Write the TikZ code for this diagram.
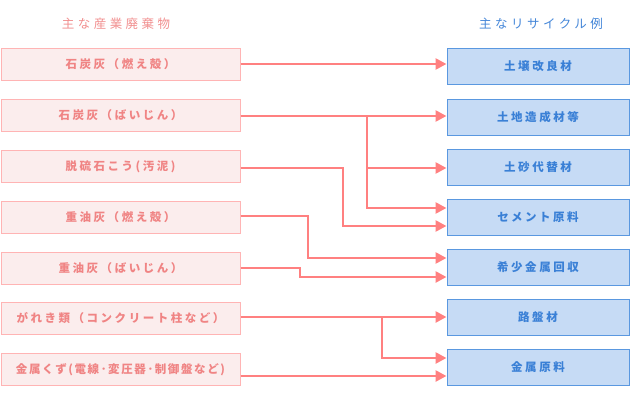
\documentclass[tikz,border=0pt]{standalone}
\usepackage{fontspec}
\setmainfont{Noto Sans CJK JP}[LetterSpace=22]
\usetikzlibrary{arrows.meta}
\definecolor{lfill}{HTML}{FBEDED}
\definecolor{ldraw}{HTML}{FFB4B4}
\definecolor{ltext}{HTML}{F08484}
\definecolor{rfill}{HTML}{C6DBF5}
\definecolor{rdraw}{HTML}{5A98E0}
\definecolor{rtext}{HTML}{3A80D6}
\definecolor{conncol}{HTML}{FF8080}
\begin{document}
\begin{tikzpicture}[x=1pt,y=-1pt,
  lbox/.style={draw=ldraw,fill=lfill,line width=1pt,minimum width=239pt,minimum height=32pt,inner sep=0pt,text=ltext,font=\fontsize{11.5}{13}\selectfont\bfseries},
  rbox/.style={draw=rdraw,fill=rfill,line width=1pt,minimum width=182pt,minimum height=36pt,inner sep=0pt,text=rtext,font=\fontsize{11.5}{13}\selectfont\bfseries},
  ttl/.style={inner sep=0pt,font=\fontsize{12.5}{14}\selectfont\addfontfeature{LetterSpace=28}},
  conn/.style={draw=conncol,line width=2.6pt,-{Triangle[length=11pt,width=11pt]}}]
\useasboundingbox (0,0) rectangle (630,400);
\node[ttl,text=ltext!92] (T1) at (116,24) {主な産業廃棄物};
\node[ttl,text=rtext!95] (T2) at (541,24) {主なリサイクル例};
\node[lbox] (L1) at (120.5,64) {石炭灰（燃え殻）};
\node[lbox] (L2) at (120.5,115.5) {石炭灰（ばいじん）};
\node[lbox] (L3) at (120.5,166.5) {脱硫石こう(汚泥)};
\node[lbox] (L4) at (120.5,217) {重油灰（燃え殻）};
\node[lbox] (L5) at (120.5,268) {重油灰（ばいじん）};
\node[lbox] (L6) at (120.5,318) {がれき類（コンクリート柱など）};
\node[lbox,font=\fontsize{11.5}{13}\selectfont\bfseries\addfontfeature{LetterSpace=14}] (L7) at (120.5,369.5) {金属くず(電線･変圧器･制御盤など)};
\node[rbox] (R1) at (538,66) {土壌改良材};
\node[rbox] (R2) at (538,117) {土地造成材等};
\node[rbox] (R3) at (538,167) {土砂代替材};
\node[rbox] (R4) at (538,217) {セメント原料};
\node[rbox] (R5) at (538,267) {希少金属回収};
\node[rbox] (R6) at (538,317) {路盤材};
\node[rbox] (R7) at (538,367) {金属原料};
\coordinate (B2) at (367,116);
\coordinate (K3) at (343,168);
\coordinate (K4) at (308,216);
\coordinate (K5) at (300,268);
\coordinate (B6) at (382,317);
\draw[conn] (L1.east) -- (L1.east -| R1.west);
\draw[conn] (L2.east |- B2) -- (B2 -| R2.west);
\draw[conn] (B2) |- ([yshift=-1pt]R3.west);
\draw[conn] (B2) |- ([yshift=9pt]R4.west);
\draw[conn] (L3.east |- K3) -- (K3) |- ([yshift=-9pt]R4.west);
\draw[conn] (L4.east |- K4) -- (K4) |- ([yshift=9pt]R5.west);
\draw[conn] (L5.east |- K5) -- (K5) |- ([yshift=-10pt]R5.west);
\draw[conn] (L6.east |- B6) -- (B6 -| R6.west);
\draw[conn] (B6) |- ([yshift=9pt]R7.west);
\draw[conn] ([yshift=-6.5pt]L7.east) -- ([yshift=-9pt]R7.west);
\end{tikzpicture}
\end{document}
